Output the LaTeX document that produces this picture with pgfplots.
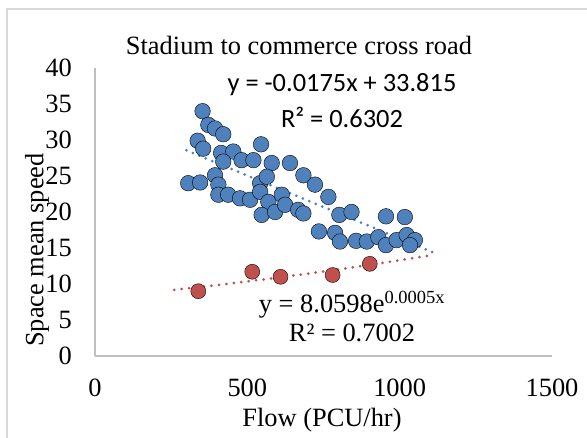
\documentclass[border=0pt]{standalone}
\usepackage{pgfplots}
\pgfplotsset{compat=1.18}
\usepackage{fontspec}
\setmainfont{Liberation Serif}
\newfontfamily\calibri{Carlito}
\definecolor{xblue}{HTML}{4F81BD}
\definecolor{xred}{HTML}{C0504D}
\definecolor{axgray}{HTML}{BFBFBF}
\definecolor{frgray}{HTML}{D9D9D9}
\newcommand{\bigf}{\fontsize{26.4}{30}\selectfont}
\begin{document}
\begin{tikzpicture}
\useasboundingbox (-95pt,-81pt) rectangle (492pt,356pt);
\draw[frgray, line width=1.5pt] (-88pt,-120pt) rectangle (520pt,347pt);
\begin{axis}[
  at={(0pt,0pt)}, anchor=south west,
  width=457pt, height=288pt, scale only axis,
  xmin=0, xmax=1500, ymin=0, ymax=40,
  axis lines*=left,
  axis line style={axgray, line width=1.2pt, -},
  xtick={0,500,1000,1500}, ytick={0,5,...,40},
  major tick length=0pt,
  /pgf/number format/assume math mode=true,
  /pgf/number format/1000 sep={},
  xticklabel style={font=\bigf, anchor=north, inner sep=0pt, yshift=-23pt},
  yticklabel style={font=\bigf, anchor=east, inner sep=0pt, xshift=-23pt},
  clip=false,
]
\addplot[only marks, mark=*, mark size=7.8pt, mark options={draw=none, fill=xblue}] coordinates {
(353,34.0) (372,32.1) (394,31.6) (421,30.8) (337,29.9) (355,28.8) (414,28.2) (454,28.4)
(421,27.0) (481,27.2) (520,27.2) (545,29.4) (580,26.8) (640,26.8) (684,25.1) (722,23.8)
(306,24.0) (345,24.1) (394,25.1) (405,23.8) (405,22.4) (437,22.4) (476,21.9) (509,21.7)
(542,24.0) (564,24.9) (542,22.8) (569,21.4) (613,22.4) (547,19.6) (591,20.0) (624,21.0)
(667,20.3) (684,19.8) (735,17.3) (766,22.1) (802,19.6) (842,20.0) (788,17.1) (804,15.9)
(857,16.0) (892,15.9) (930,16.5) (955,19.4) (955,15.4) (990,16.1) (1017,19.3) (1023,16.8)
(1050,16.1) (1034,15.4)
};
\addplot[xblue, line width=3pt, line cap=round, dash pattern=on 0pt off 7pt] coordinates {
(300,28.565) (1110,14.39)
};
\addplot[only marks, mark=*, mark size=7.5pt, mark options={draw=none, fill=xred}] coordinates {
(339,9.0) (516,11.7) (609,11.0) (780,11.25) (902,12.8)
};
\addplot[xred, line width=3pt, line cap=round, dash pattern=on 0pt off 7.5pt] coordinates {
(260,9.179) (400,9.844) (600,10.880) (800,12.024) (1000,13.288) (1110,14.040)
};
\end{axis}
\node[font=\bigf] at (204pt,311pt) {Stadium to commerce cross road};
\node[font=\bigf, rotate=90] at (-58pt,106pt) {Space mean speed};
\node[font=\bigf] at (227pt,-64pt) {Flow (PCU/hr)};
\node[font=\bigf\calibri] at (247pt,271pt) {y = -0.0175x + 33.815};
\node[font=\bigf\calibri] at (247pt,239pt) {R² = 0.6302};
\node[font=\bigf] at (257pt,51pt) {y = 8.0598e\textsuperscript{0.0005x}};
\node[font=\bigf] at (257pt,23pt) {R² = 0.7002};
\end{tikzpicture}
\end{document}
